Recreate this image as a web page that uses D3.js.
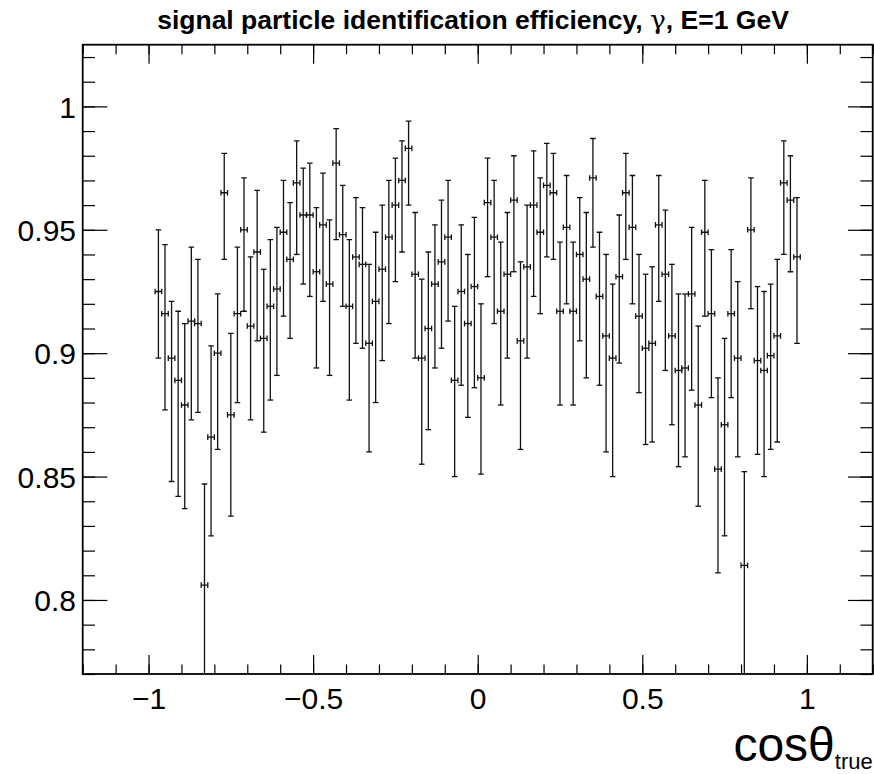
<!DOCTYPE html>
<html>
<head>
<meta charset="utf-8">
<script src="https://cdn.jsdelivr.net/npm/d3@7"></script>
<style>
  body { margin: 0; background: #fff; }
  svg { display: block; font-family: "Liberation Sans", Arial, Helvetica, sans-serif; }
</style>
</head>
<body>
<svg id="chart" width="874" height="774"></svg>
<script>
// bin centres (cos theta_true), bin half width 0.01
const binCenter = [
  -0.97, -0.95, -0.93, -0.91, -0.89, -0.87, -0.85, -0.83, -0.81, -0.79,
  -0.77, -0.75, -0.73, -0.71, -0.69, -0.67, -0.65, -0.63, -0.61, -0.59,
  -0.57, -0.55, -0.53, -0.51, -0.49, -0.47, -0.45, -0.43, -0.41, -0.39,
  -0.37, -0.35, -0.33, -0.31, -0.29, -0.27, -0.25, -0.23, -0.21, -0.19,
  -0.17, -0.15, -0.13, -0.11, -0.09, -0.07, -0.05, -0.03, -0.01,
   0.01, 0.03, 0.05, 0.07, 0.09, 0.11, 0.13, 0.15, 0.17, 0.19,
   0.21, 0.23, 0.25, 0.27, 0.29, 0.31, 0.33, 0.35, 0.37, 0.39,
   0.41, 0.43, 0.45, 0.47, 0.49, 0.51, 0.53, 0.55, 0.57, 0.59,
   0.61, 0.63, 0.65, 0.67, 0.69, 0.71, 0.73, 0.75, 0.77, 0.79,
   0.81, 0.83, 0.85, 0.87, 0.89, 0.91, 0.93, 0.95, 0.97
];
const binHalfWidth = 0.01;

// efficiency per bin
const efficiency = [
  0.925, 0.916, 0.898, 0.889, 0.879, 0.913, 0.912, 0.806, 0.866, 0.900,
  0.965, 0.875, 0.916, 0.950, 0.911, 0.941, 0.906, 0.919, 0.926, 0.949,
  0.938, 0.969, 0.956, 0.956, 0.933, 0.952, 0.928, 0.977, 0.948, 0.919,
  0.939, 0.936, 0.904, 0.921, 0.934, 0.947, 0.960, 0.970, 0.983, 0.932,
  0.898, 0.910, 0.928, 0.937, 0.947, 0.889, 0.925, 0.912, 0.927,
  0.890, 0.961, 0.947, 0.917, 0.932, 0.962, 0.905, 0.935, 0.960, 0.949,
  0.968, 0.965, 0.917, 0.951, 0.917, 0.940, 0.930, 0.971, 0.923, 0.907,
  0.898, 0.931, 0.965, 0.951, 0.915, 0.902, 0.904, 0.952, 0.932, 0.907,
  0.893, 0.894, 0.924, 0.879, 0.949, 0.916, 0.853, 0.871, 0.916, 0.898,
  0.814, 0.950, 0.897, 0.893, 0.899, 0.907, 0.969, 0.962, 0.939
];

// upper end of the error bar
const effUpper = [
  0.950, 0.944, 0.921, 0.917, 0.912, 0.943, 0.938, 0.847, 0.903, 0.924,
  0.981, 0.908, 0.943, 0.971, 0.939, 0.966, 0.934, 0.946, 0.951, 0.970,
  0.961, 0.986, 0.975, 0.977, 0.959, 0.973, 0.954, 0.991, 0.968, 0.946,
  0.963, 0.959, 0.936, 0.949, 0.960, 0.970, 0.979, 0.986, 0.994, 0.957,
  0.930, 0.941, 0.952, 0.962, 0.970, 0.919, 0.952, 0.940, 0.955,
  0.920, 0.979, 0.970, 0.945, 0.957, 0.980, 0.937, 0.960, 0.982, 0.971,
  0.985, 0.981, 0.945, 0.972, 0.945, 0.963, 0.957, 0.987, 0.949, 0.940,
  0.928, 0.956, 0.981, 0.972, 0.940, 0.932, 0.935, 0.972, 0.958, 0.936,
  0.924, 0.924, 0.951, 0.911, 0.970, 0.942, 0.890, 0.906, 0.942, 0.929,
  0.852, 0.971, 0.927, 0.925, 0.928, 0.938, 0.986, 0.980, 0.963
];

// lower end of the error bar
const effLower = [
  0.898, 0.877, 0.848, 0.842, 0.837, 0.873, 0.876, 0.755, 0.826, 0.861,
  0.938, 0.834, 0.880, 0.917, 0.873, 0.905, 0.868, 0.881, 0.891, 0.915,
  0.906, 0.940, 0.928, 0.923, 0.894, 0.921, 0.891, 0.946, 0.919, 0.881,
  0.904, 0.902, 0.860, 0.880, 0.897, 0.912, 0.929, 0.941, 0.960, 0.898,
  0.855, 0.869, 0.894, 0.902, 0.913, 0.850, 0.887, 0.874, 0.886,
  0.851, 0.931, 0.912, 0.879, 0.898, 0.933, 0.861, 0.898, 0.923, 0.916,
  0.939, 0.938, 0.879, 0.920, 0.879, 0.905, 0.890, 0.943, 0.887, 0.860,
  0.850, 0.896, 0.938, 0.920, 0.884, 0.863, 0.864, 0.921, 0.893, 0.871,
  0.854, 0.858, 0.885, 0.838, 0.915, 0.882, 0.811, 0.826, 0.882, 0.858,
  0.760, 0.918, 0.859, 0.850, 0.861, 0.864, 0.940, 0.933, 0.904
];

const xMajor = [-1, -0.5, 0, 0.5, 1];
const yMajor = [0.8, 0.85, 0.9, 0.95, 1];

const svg = d3.select("#chart");
const frame = { left: 82.7, right: 872.7, top: 44.7, bottom: 674 };

const x = d3.scaleLinear().domain([-1.2, 1.2]).range([frame.left, frame.right]);
const y = d3.scaleLinear().domain([0.77, 1.025]).range([frame.bottom, frame.top]);

const xMinor = d3.range(-12, 13).map(d => d / 10);
const yMinor = d3.range(77, 103).map(d => d / 100);

// ROOT style labels: no trailing zeros, real minus sign
const rootFmt = d => (d < 0 ? "\u2212" : "") + String(Math.abs(d));

// ticks, ROOT style: inside the frame on all four sides
function styleAxis(g) {
  g.select(".domain").remove();
  g.selectAll(".tick line").attr("stroke", "#000").attr("stroke-width", 1.2);
  g.selectAll("text").attr("fill", "#000").style("font-size", "30px");
}

svg.append("g").attr("transform", `translate(0,${frame.bottom})`)
  .call(d3.axisBottom(x).tickValues(xMinor).tickSize(-9.5).tickFormat("")).call(styleAxis);
svg.append("g").attr("transform", `translate(0,${frame.bottom})`)
  .call(d3.axisBottom(x).tickValues(xMajor).tickSize(-19).tickPadding(14).tickFormat(rootFmt)).call(styleAxis);
svg.append("g").attr("transform", `translate(0,${frame.top})`)
  .call(d3.axisTop(x).tickValues(xMinor).tickSize(-9.5).tickFormat("")).call(styleAxis);
svg.append("g").attr("transform", `translate(0,${frame.top})`)
  .call(d3.axisTop(x).tickValues(xMajor).tickSize(-19).tickFormat("")).call(styleAxis);

svg.append("g").attr("transform", `translate(${frame.left},0)`)
  .call(d3.axisLeft(y).tickValues(yMinor).tickSize(-12.3).tickFormat("")).call(styleAxis);
svg.append("g").attr("transform", `translate(${frame.left},0)`)
  .call(d3.axisLeft(y).tickValues(yMajor).tickSize(-24.7).tickPadding(6.7).tickFormat(rootFmt))
  .call(styleAxis)
  .call(g => g.selectAll("text").attr("dy", "0.355em"));
svg.append("g").attr("transform", `translate(${frame.right},0)`)
  .call(d3.axisRight(y).tickValues(yMinor).tickSize(-12.3).tickFormat("")).call(styleAxis);
svg.append("g").attr("transform", `translate(${frame.right},0)`)
  .call(d3.axisRight(y).tickValues(yMajor).tickSize(-24.7).tickFormat("")).call(styleAxis);

// frame
svg.append("rect")
  .attr("x", frame.left).attr("y", frame.top)
  .attr("width", frame.right - frame.left).attr("height", frame.bottom - frame.top)
  .attr("fill", "none").attr("stroke", "#000").attr("stroke-width", 1.8);

svg.append("clipPath").attr("id", "plot-clip")
  .append("rect")
  .attr("x", frame.left).attr("y", frame.top)
  .attr("width", frame.right - frame.left).attr("height", frame.bottom - frame.top);

// error bars
const points = binCenter.map((c, i) => ({ c, eff: efficiency[i], hi: effUpper[i], lo: effLower[i] }));
const cap = 2.8;
const pts = svg.append("g").attr("clip-path", "url(#plot-clip)")
  .attr("stroke", "#111").attr("stroke-width", 1.3).attr("fill", "none")
  .selectAll("g").data(points).join("g");

pts.append("line")
  .attr("x1", d => x(d.c)).attr("x2", d => x(d.c))
  .attr("y1", d => y(d.hi)).attr("y2", d => y(d.lo));
pts.append("line")
  .attr("x1", d => x(d.c) - cap).attr("x2", d => x(d.c) + cap)
  .attr("y1", d => y(d.hi)).attr("y2", d => y(d.hi));
pts.append("line")
  .attr("x1", d => x(d.c) - cap).attr("x2", d => x(d.c) + cap)
  .attr("y1", d => y(d.lo)).attr("y2", d => y(d.lo));
pts.append("line")
  .attr("x1", d => x(d.c - binHalfWidth)).attr("x2", d => x(d.c + binHalfWidth))
  .attr("y1", d => y(d.eff)).attr("y2", d => y(d.eff));
pts.append("line")
  .attr("x1", d => x(d.c - binHalfWidth)).attr("x2", d => x(d.c - binHalfWidth))
  .attr("y1", d => y(d.eff) - cap).attr("y2", d => y(d.eff) + cap);
pts.append("line")
  .attr("x1", d => x(d.c + binHalfWidth)).attr("x2", d => x(d.c + binHalfWidth))
  .attr("y1", d => y(d.eff) - cap).attr("y2", d => y(d.eff) + cap);

// title
const title = svg.append("text")
  .attr("x", 473).attr("y", 29)
  .attr("text-anchor", "middle")
  .style("font-size", "26.5px").style("font-weight", "bold");
title.append("tspan").text("signal particle identification efficiency, ");
title.append("tspan").style("font-weight", "normal").style("font-family", "'DejaVu Serif', serif").text("γ");
title.append("tspan").text(", E=1 GeV");

// x axis title
const xTitle = svg.append("text")
  .attr("x", frame.right).attr("y", 761)
  .attr("text-anchor", "end")
  .style("font-size", "48px");
xTitle.append("tspan").text("cosθ");
xTitle.append("tspan").attr("dy", 7.5).style("font-size", "22px").text("true");
</script>
</body>
</html>
